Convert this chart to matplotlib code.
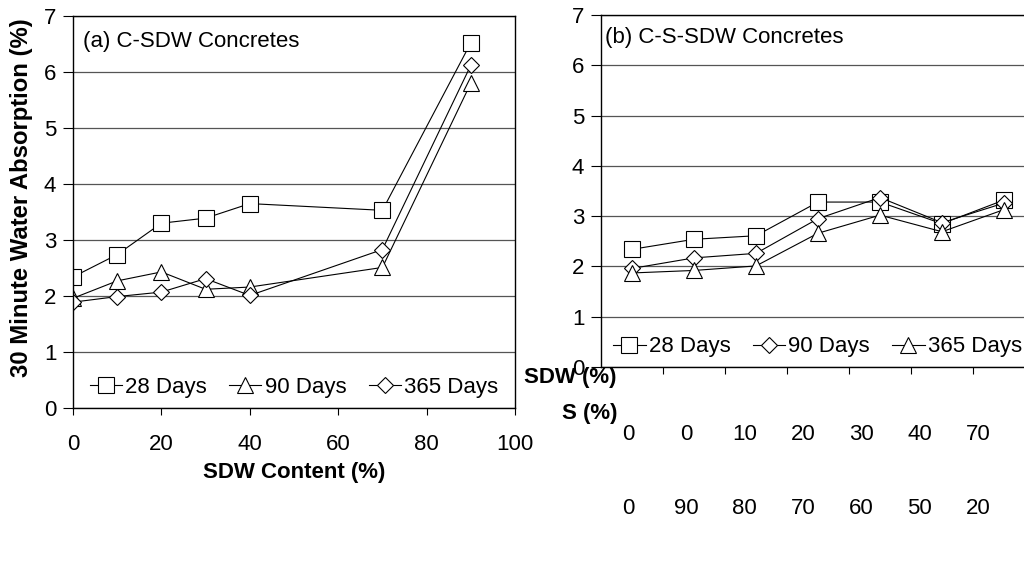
import numpy as np
import matplotlib
matplotlib.use('Agg')
import matplotlib.pyplot as plt

plt.rcParams['font.family'] = ['Liberation Sans', 'DejaVu Sans']

# (a) C-SDW concretes
sdw_a = [0, 10, 20, 30, 40, 70, 90]
a_28 = [2.34, 2.74, 3.30, 3.39, 3.65, 3.53, 6.52]
a_90 = [1.96, 2.27, 2.43, 2.12, 2.16, 2.51, 5.80]
a_365 = [1.89, 1.99, 2.07, 2.31, 2.01, 2.83, 6.12]

# (b) C-S-SDW concretes (categorical x)
sdw_b = ['0', '0', '10', '20', '30', '40', '70']
s_b = ['0', '90', '80', '70', '60', '50', '20']
b_28 = [2.34, 2.54, 2.61, 3.28, 3.28, 2.85, 3.32]
b_90 = [1.96, 2.17, 2.26, 2.95, 3.37, 2.87, 3.26]
b_365 = [1.87, 1.92, 2.01, 2.66, 3.02, 2.69, 3.13]

W, H = 1024, 583
fig = plt.figure(figsize=(W / 100, H / 100), dpi=100)

def frac(l, r, t, b):
    return [l / W, 1 - b / H, (r - l) / W, (b - t) / H]

ax1 = fig.add_axes(frac(73, 515, 16, 408))
ax2 = fig.add_axes(frac(601, 1035, 15, 367))

fs = 16
mk = dict(color='black', lw=0.8, mfc='white', mec='black', mew=0.8)
leg_kw = dict(ncol=3, frameon=False, fontsize=fs, handlelength=1.45, handletextpad=0.15,
              columnspacing=1.0, borderaxespad=0.0)

for ax in (ax1, ax2):
    ax.set_ylim(0, 7)
    ax.set_yticks(range(8))
    ax.yaxis.grid(True, color='#555555', lw=0.9)
    ax.set_axisbelow(True)
    ax.tick_params(axis='both', labelsize=fs, direction='out', width=0.8, color='black')
    ax.tick_params(axis='y', length=7, pad=5)
    for s in ax.spines.values():
        s.set_linewidth(1.0)

# ---- panel (a) ----
ax1.plot(sdw_a, a_28, marker='s', ms=11, label='28 Days', **mk)
ax1.plot(sdw_a, a_90, marker='^', ms=11, label='90 Days', **mk)
ax1.plot(sdw_a, a_365, marker='D', ms=8, label='365 Days', **mk)
ax1.set_xlim(0, 100)
ax1.set_xticks(range(0, 101, 20))
ax1.tick_params(axis='x', length=5, pad=14)
ax1.text(0.022, 0.935, '(a) C-SDW Concretes', transform=ax1.transAxes, fontsize=fs, va='center')
ax1.legend(loc='center', bbox_to_anchor=(0.5, 0.053), **leg_kw)
ax1.set_xlabel('SDW Content (%)', fontsize=fs, fontweight='bold', labelpad=5)
fig.text(22 / W, 1 - 198 / H, '30 Minute Water Absorption (%)', rotation=90, fontsize=17.2,
         fontweight='bold', ha='center', va='center')

# ---- panel (b) ----
xb = np.arange(len(sdw_b)) + 0.5
ax2.plot(xb, b_28, marker='s', ms=11, label='28 Days', **mk)
ax2.plot(xb, b_90, marker='D', ms=8, label='90 Days', **mk)
ax2.plot(xb, b_365, marker='^', ms=11, label='365 Days', **mk)
ax2.set_xlim(0, len(sdw_b))
ax2.set_xticks(np.arange(1, len(sdw_b)))
ax2.set_xticklabels([])
ax2.tick_params(axis='x', length=5)
ax2.text(0.01, 0.935, '(b) C-S-SDW Concretes', transform=ax2.transAxes, fontsize=fs, va='center')
ax2.legend(loc='center left', bbox_to_anchor=(0.008, 0.057), **leg_kw)

# table-like labels under panel (b)
fig.text(617 / W, 1 - 378 / H, 'SDW (%)', fontsize=fs, fontweight='bold', ha='right', va='center')
fig.text(617 / W, 1 - 413 / H, 'S (%)', fontsize=fs, fontweight='bold', ha='right', va='center')
for i, (a, b) in enumerate(zip(sdw_b, s_b)):
    xp = (628 + i * 58.3) / W
    fig.text(xp, 1 - 434 / H, a, fontsize=fs, ha='center', va='center')
    fig.text(xp, 1 - 508 / H, b, fontsize=fs, ha='center', va='center')

plt.savefig('out.png', dpi=100)
